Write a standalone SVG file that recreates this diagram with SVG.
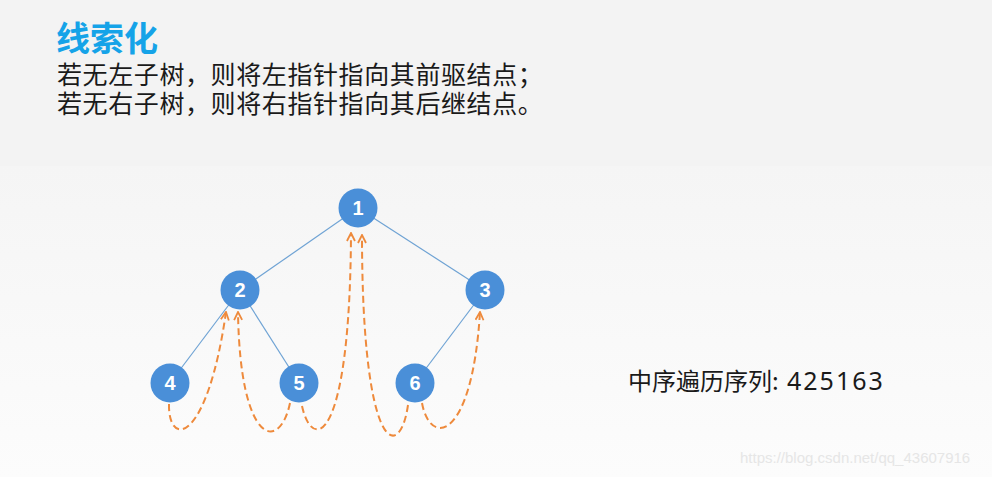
<svg xmlns="http://www.w3.org/2000/svg" width="992" height="477" viewBox="0 0 992 477">
<defs>
<linearGradient id="bg" x1="0" y1="0" x2="0" y2="1">
<stop offset="0" stop-color="#f5f5f5"/>
<stop offset="1" stop-color="#fcfcfc"/>
</linearGradient>
<marker id="arr" viewBox="0 0 10 10" refX="9" refY="5" markerWidth="10" markerHeight="10" markerUnits="userSpaceOnUse" orient="auto">
<path d="M1,1 L9,5 L1,9" fill="none" stroke="#ee8a3c" stroke-width="1.8"/>
</marker>
<style>
.node circle{fill:#4a8fd8;}
.node text{fill:#ffffff;font-family:"Liberation Sans",Arial,sans-serif;font-weight:bold;font-size:20px;text-anchor:middle;}
.edge{stroke:#6fa3d4;stroke-width:1.2;fill:none;}
.thread{stroke:#ee8a3c;stroke-width:2;fill:none;stroke-dasharray:7 4;marker-end:url(#arr);}
.cn{font-family:"Noto Sans CJK SC","Noto Sans",sans-serif;fill:#1a1a1a;}
</style>
</defs>
<rect x="0" y="0" width="992" height="477" fill="#f3f3f3"/>
<rect x="0" y="166" width="992" height="311" fill="url(#bg)"/>

<text class="cn" x="56" y="51" font-size="34" font-weight="bold" style="fill:#15a3e8">线索化</text>
<text class="cn" x="57" y="84" font-size="25" letter-spacing="0.6">若无左子树，则将左指针指向其前驱结点；</text>
<text class="cn" x="57" y="113" font-size="25" letter-spacing="0.6">若无右子树，则将右指针指向其后继结点。</text>

<g id="connectors">
<line class="edge" x1="358" y1="208" x2="240" y2="290"/>
<line class="edge" x1="358" y1="208" x2="485" y2="290"/>
<line class="edge" x1="240" y1="290" x2="170" y2="383"/>
<line class="edge" x1="240" y1="290" x2="299" y2="383"/>
<line class="edge" x1="485" y1="290" x2="415" y2="383"/>
<path class="thread" d="M169,404 C168,448 207,445 226,312"/>
<path class="thread" d="M290,403 C280,452 240,447 238,312"/>
<path class="thread" d="M302,406 C312,452 350,447 351,233"/>
<path class="thread" d="M408,405 C400,462 362,457 362,235"/>
<path class="thread" d="M422,403 C430,447 472,442 480,312"/>
</g>

<g id="n1" class="node"><circle cx="358" cy="208" r="19.5"/><text x="358" y="215">1</text></g>
<g id="n2" class="node"><circle cx="240" cy="290" r="19.5"/><text x="240" y="297">2</text></g>
<g id="n3" class="node"><circle cx="485" cy="290" r="19.5"/><text x="485" y="297">3</text></g>
<g id="n4" class="node"><circle cx="170" cy="383" r="19.5"/><text x="170" y="390">4</text></g>
<g id="n5" class="node"><circle cx="299" cy="383" r="19.5"/><text x="299" y="390">5</text></g>
<g id="n6" class="node"><circle cx="415" cy="383" r="19.5"/><text x="415" y="390">6</text></g>

<text class="cn" x="628" y="390" font-size="24">中序遍历序列:<tspan x="787" font-family="Noto Sans,sans-serif" font-size="25" letter-spacing="2">425163</tspan></text>

<text x="740" y="463" font-family="Liberation Sans,Arial,sans-serif" font-size="15" fill="#e6e6e6">https://blog.csdn.net/qq_43607916</text>
</svg>
